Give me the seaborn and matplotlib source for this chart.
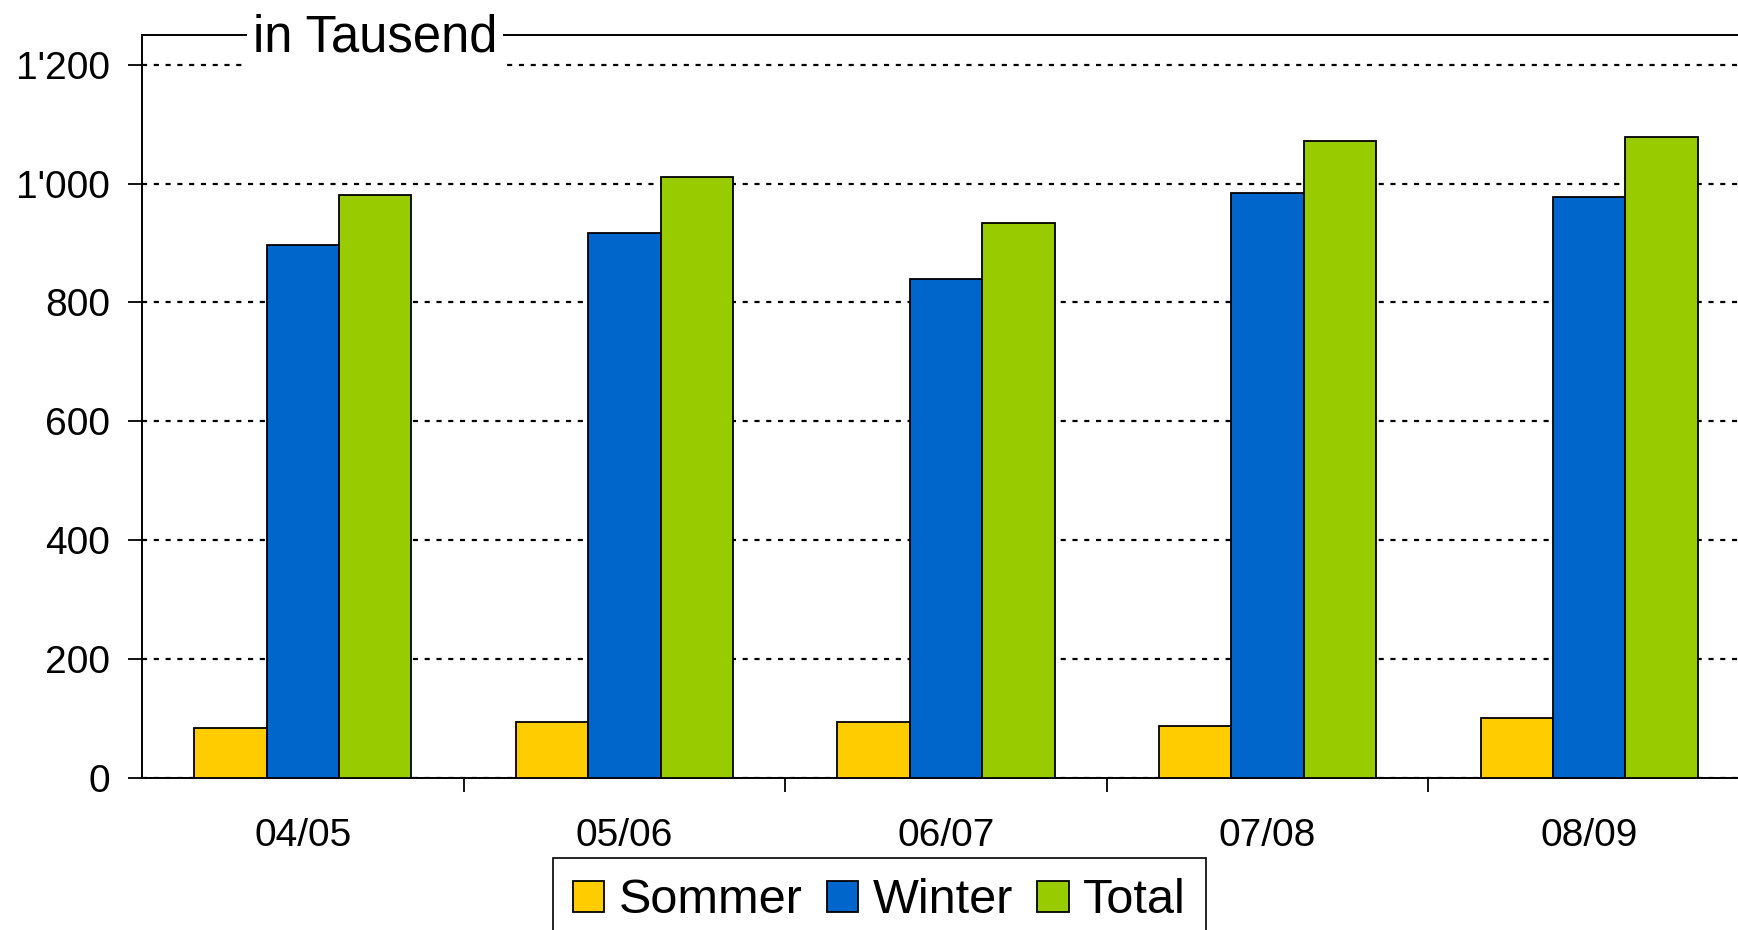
import matplotlib
matplotlib.use("Agg")
import matplotlib.pyplot as plt
from matplotlib.ticker import FuncFormatter, FixedLocator
import seaborn as sns
import pandas as pd

# ---- data ----
seasons = ["04/05", "05/06", "06/07", "07/08", "08/09"]
sommer = [84, 94, 94, 87, 101]
winter = [897, 917, 839, 984, 978]
total = [981, 1011, 933, 1071, 1079]
series_names = ["Sommer", "Winter", "Total"]
colors = ["#FFCC00", "#0066CC", "#99CC00"]
y_ticks = [0, 200, 400, 600, 800, 1000, 1200]
unit_label = "in Tausend"

rows = []
for name, vals in zip(series_names, [sommer, winter, total]):
    for s, v in zip(seasons, vals):
        rows.append({"Saison": s, "Serie": name, "Wert": v})
df = pd.DataFrame(rows)

sns.set_theme(style="white")
plt.rcParams["font.family"] = ["Liberation Sans", "DejaVu Sans"]
plt.rcParams["text.color"] = "black"

W, H = 1738, 930
fig = plt.figure(figsize=(W / 100, H / 100), dpi=100)
ax = fig.add_axes([142 / W, 1 - 778 / H, (1750 - 142) / W, (778 - 35) / H])

sns.barplot(data=df, x="Saison", y="Wert", hue="Serie", order=seasons,
            hue_order=series_names, palette=colors, width=0.675, gap=0,
            edgecolor="black", linewidth=1.3, saturation=1, ax=ax, zorder=3)

ax.set_xlim(-0.5, 4.5)
ax.set_ylim(0, 1250)
ax.set_xlabel("")
ax.set_ylabel("")

# grid
ax.yaxis.set_major_locator(FixedLocator(y_ticks))
ax.grid(axis="y", color="black", linewidth=1.6, linestyle=(0, (2.3, 3.0)), zorder=0)
ax.grid(axis="x", visible=False)
ax.set_axisbelow(True)

ax.yaxis.set_major_formatter(FuncFormatter(lambda v, p: f"{int(v):,}".replace(",", "'")))

# spines
for sp in ["left", "bottom", "top"]:
    ax.spines[sp].set_visible(True)
    ax.spines[sp].set_color("black")
    ax.spines[sp].set_linewidth(1.4)
ax.spines["right"].set_visible(False)

# ticks
ax.tick_params(axis="y", which="major", direction="out", length=10, width=1.3,
               color="black", pad=13, labelsize=28, labelcolor="black", left=True)
ax.set_xticks(range(len(seasons)))
ax.set_xticklabels(seasons)
ax.tick_params(axis="x", which="major", length=0, pad=29, labelsize=28, labelcolor="black")
ax.set_xticks([i + 0.5 for i in range(len(seasons) - 1)], minor=True)
ax.tick_params(axis="x", which="minor", direction="out", length=10, width=1.3,
               color="black", bottom=True)

# unit label on top spine
ax.text(-0.155, 1223, unit_label, fontsize=36.5, ha="left", va="baseline",
        color="black", zorder=10, clip_on=False,
        bbox=dict(facecolor="white", edgecolor="none", pad=4.5))

# legend
handles, labels = ax.get_legend_handles_labels()
ax.get_legend().remove()
leg = fig.legend(handles, labels, loc="upper center",
                 bbox_to_anchor=(879.5 / W, 1 - 858 / H), ncol=3,
                 fontsize=35, frameon=True, fancybox=False, shadow=False,
                 framealpha=1, edgecolor="black", borderpad=0.42,
                 borderaxespad=0,
                 handlelength=0.64, handleheight=0.62, handletextpad=0.3,
                 columnspacing=0.5, labelcolor="black")
leg.get_frame().set_linewidth(1.2)

fig.savefig("out.png", dpi=100)
